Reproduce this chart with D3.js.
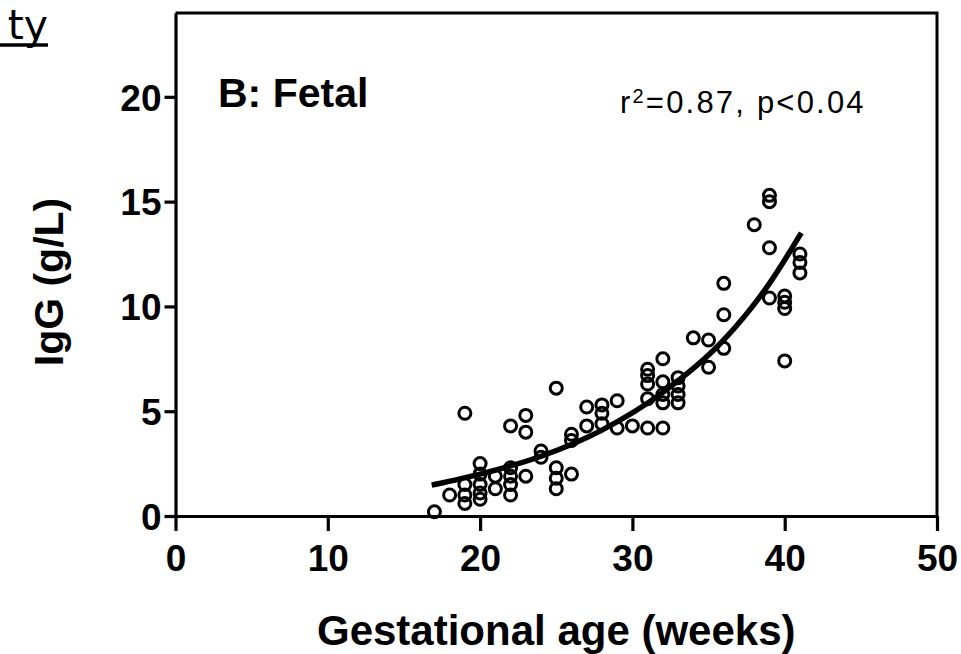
<!DOCTYPE html>
<html>
<head>
<meta charset="utf-8">
<script src="https://cdn.jsdelivr.net/npm/d3@7"></script>
<style>
  body { margin: 0; background: #fff; }
  svg { display: block; }
  text { font-family: "Liberation Sans", Arial, sans-serif; fill: #000; }
</style>
</head>
<body>
<div id="chart"></div>
<script>
// fetal IgG vs gestational age
const gestAge = [
  17, 18,
  19, 19, 19, 19,
  20, 20, 20, 20, 20,
  21, 21,
  22, 22, 22, 22, 22,
  23, 23, 23,
  24, 24,
  25, 25, 25, 25,
  26, 26, 26,
  27, 27,
  28, 28, 28,
  29, 29,
  30,
  31, 31, 31, 31, 31,
  32, 32, 32, 32, 32,
  33, 33, 33, 33,
  34,
  35, 35,
  36, 36, 36,
  38,
  39, 39, 39, 39,
  40, 40, 40, 40,
  41, 41, 41
]
const iggValues = [
  0.2, 1.0,
  4.9, 1.5, 1.0, 0.6,
  2.5, 2.0, 1.5, 1.1, 0.8,
  1.9, 1.3,
  4.3, 2.3, 1.9, 1.5, 1.0,
  4.8, 4.0, 1.9,
  3.1, 2.8,
  6.1, 2.3, 1.8, 1.3,
  3.9, 3.6, 2.0,
  5.2, 4.3,
  5.3, 4.9, 4.4,
  5.5, 4.2,
  4.3,
  7.0, 6.7, 6.3, 5.6, 4.2,
  7.5, 6.4, 5.8, 5.4, 4.2,
  6.6, 6.2, 5.8, 5.4,
  8.5,
  8.4, 7.1,
  11.1, 9.6, 8.0,
  13.9,
  15.3, 15.0, 12.8, 10.4,
  10.5, 10.2, 9.9, 7.4,
  12.5, 12.1, 11.6
]

// regression curve
const fitAge = [17, 20, 24, 28, 32, 36, 39, 41]
const fitIgg = [1.5, 2.0, 2.85, 4.1, 5.9, 8.4, 11.1, 13.4]

const xTicks = [0, 10, 20, 30, 40, 50]
const yTicks = [0, 5, 10, 15, 20]

const panelLabel = 'B: Fetal'
const xTitle = 'Gestational age (weeks)'
const yTitle = 'IgG (g/L)'

const width = 961
const height = 654

const svg = d3.select('#chart').append('svg')
    .attr('width', width)
    .attr('height', height)

const x = d3.scaleLinear().domain([0, 50]).range([175.5, 937])
const y = d3.scaleLinear().domain([0, 24]).range([516, 13])

// frame (top + right edges)
svg.append('path')
    .attr('d', `M ${x(0)} ${y(24)} L ${x(50)} ${y(24)} L ${x(50)} ${y(0)}`)
    .attr('fill', 'none')
    .attr('stroke', '#000')
    .attr('stroke-width', 3)

const xAxis = svg.append('g')
    .attr('transform', `translate(0,${y(0)})`)
    .call(d3.axisBottom(x).tickValues(xTicks).tickSize(15).tickPadding(14).tickSizeOuter(0))

const yAxis = svg.append('g')
    .attr('transform', `translate(${x(0)},0)`)
    .call(d3.axisLeft(y).tickValues(yTicks).tickSize(11).tickPadding(3).tickSizeOuter(0))

;[xAxis, yAxis].forEach(g => {
    g.select('.domain').attr('stroke', '#000').attr('stroke-width', 3.2)
    g.selectAll('.tick line').attr('stroke', '#000').attr('stroke-width', 3.2)
    g.selectAll('.tick text')
        .attr('fill', '#000')
        .style('font-size', '37px')
        .style('font-weight', 'bold')
        .style('font-family', '"Liberation Sans", Arial, sans-serif')
})
yAxis.selectAll('.tick text').attr('dy', '0.36em')

// fitted curve
const line = d3.line()
    .x(d => x(d[0]))
    .y(d => y(d[1]))
    .curve(d3.curveMonotoneX)

svg.append('path')
    .datum(d3.zip(fitAge, fitIgg))
    .attr('d', line)
    .attr('fill', 'none')
    .attr('stroke', '#000')
    .attr('stroke-width', 5.5)
    .attr('stroke-linecap', 'square')

// open circles
svg.append('g').selectAll('circle')
    .data(d3.zip(gestAge, iggValues))
    .enter().append('circle')
    .attr('cx', d => x(d[0]))
    .attr('cy', d => y(d[1]))
    .attr('r', 6)
    .attr('fill', 'none')
    .attr('stroke', '#000')
    .attr('stroke-width', 3)

// texts
svg.append('text')
    .attr('x', 218)
    .attr('y', 107)
    .style('font-size', '41px')
    .style('font-weight', 'bold')
    .text(panelLabel)

const stat = svg.append('text')
    .attr('x', 620)
    .attr('y', 113)
    .style('font-size', '31px')
    .style('letter-spacing', '2.2px')
stat.append('tspan').text('r')
stat.append('tspan').attr('dy', -10).style('font-size', '20px').text('2')
stat.append('tspan').attr('dy', 10).text('=0.87, p<0.04')

svg.append('text')
    .attr('x', (x(0) + x(50)) / 2)
    .attr('y', 645)
    .attr('text-anchor', 'middle')
    .style('font-size', '42px')
    .style('font-weight', 'bold')
    .text(xTitle)

svg.append('text')
    .attr('transform', `translate(63,${282}) rotate(-90)`)
    .attr('text-anchor', 'middle')
    .style('font-size', '41px')
    .style('font-weight', 'bold')
    .text(yTitle)

// cut-off heading fragment in the top-left corner
svg.append('text')
    .attr('x', 48)
    .attr('y', 39)
    .attr('text-anchor', 'end')
    .style('font-family', '"DejaVu Sans", Verdana, sans-serif')
    .style('font-size', '41px')
    .text('ty')
svg.append('line')
    .attr('x1', 0).attr('x2', 48)
    .attr('y1', 45).attr('y2', 45)
    .attr('stroke', '#000')
    .attr('stroke-width', 3.5)
</script>
</body>
</html>
